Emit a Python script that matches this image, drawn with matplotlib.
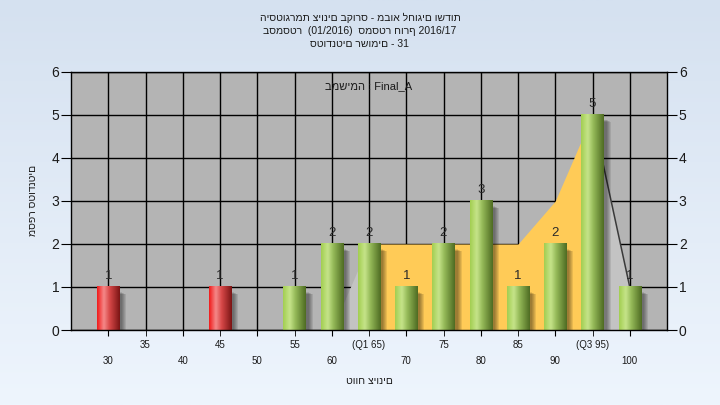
import numpy as np
import matplotlib
matplotlib.use("Agg")
import matplotlib.pyplot as plt
from matplotlib.colors import LinearSegmentedColormap
from matplotlib.patches import Rectangle

plt.rcParams['font.family'] = ['Liberation Sans', 'DejaVu Sans']

# ---------------- data ----------------
grades = [30, 45, 55, 60, 65, 70, 75, 80, 85, 90, 95, 100]
counts = [1, 1, 1, 2, 2, 1, 2, 3, 1, 2, 5, 1]
pass_grade = 55          # bars below this grade are red

area_x = [60, 65, 70, 75, 80, 85, 90, 95, 100]
area_y = [0, 2, 2, 2, 2, 2, 3, 5, 1]
q1, q3 = 65, 95

major_ticks = [30, 40, 50, 60, 70, 80, 90, 100]
major_labels = ['30', '40', '50', '60', '70', '80', '90', '100']
minor_ticks = [35, 45, 55, 65, 75, 85, 95]
minor_labels = ['35', '45', '55', '(Q1 65)', '75', '85', '(Q3 95)']
y_ticks = [0, 1, 2, 3, 4, 5, 6]

title_lines = ['היסטוגרמת ציונים בקורס - מבוא לחוגים ושדות',
               'בסמסטר  (01/2016)  סמסטר חורף 2016/17',
               'סטודנטים רשומים - 31']
task_label = 'במשימה : Final_A'
x_label = 'טווח ציונים'
y_label = 'מספר סטודנטים'

# ---------------- figure ----------------
W, H = 720, 405
fig = plt.figure(figsize=(7.2, 4.05), dpi=100)

bg = fig.add_axes([0, 0, 1, 1], zorder=-10)
bg_cmap = LinearSegmentedColormap.from_list('bg', ['#EEF5FD', '#D5E1F0'])
bg.imshow(np.linspace(0, 1, 256).reshape(-1, 1)[::-1], aspect='auto',
          cmap=bg_cmap, extent=[0, 1, 0, 1])
bg.axis('off')

left, right, top, bottom = 71, 667, 72, 330
ax = fig.add_axes([left / W, 1 - bottom / H, (right - left) / W, (bottom - top) / H])
ax.set_facecolor('#B4B4B4')
xmin, xmax = 25, 105
ax.set_xlim(xmin, xmax)
ax.set_ylim(0, 6)

# grid
ax.set_xticks(major_ticks)
ax.set_xticklabels(major_labels)
ax.set_xticks(minor_ticks, minor=True)
ax.set_xticklabels(minor_labels, minor=True)
ax.set_yticks(y_ticks)
ax.set_axisbelow(True)
ax.grid(True, which='both', axis='x', color='black', lw=1)
ax.grid(True, which='major', axis='y', color='black', lw=1)

for s in ax.spines.values():
    s.set_color('black')
    s.set_linewidth(1)
    s.set_zorder(6)

ax.tick_params(axis='x', which='both', length=4, color='black', labelsize=7,
               labelcolor='#1a1a1a')
ax.tick_params(axis='x', which='minor', pad=3.5)
ax.tick_params(axis='x', which='major', pad=15)
ax.tick_params(axis='y', left=True, right=True, labelleft=True, labelright=True,
               length=7, color='black', labelsize=10, labelcolor='#1a1a1a', pad=1.5)

# quartile area
ax_arr = np.array(area_x)
ay_arr = np.array(area_y)
inside = (ax_arr >= q1) & (ax_arr <= q3)
ax.fill_between(ax_arr[inside], 0, ay_arr[inside], color='#FFCB57', lw=0, zorder=1)
lo = ax_arr <= q1
hi = ax_arr >= q3
ax.fill_between(ax_arr[lo], 0, ay_arr[lo], color='#C3C3C3', lw=0, zorder=1)
ax.fill_between(ax_arr[hi], 0, ay_arr[hi], color='#C3C3C3', lw=0, zorder=1)
ax.plot(ax_arr[hi], ay_arr[hi], color='#3A3A3A', lw=1.1, zorder=1.5)

# bars
px = (xmax - xmin) / (right - left)       # data units per pixel (x)
py = 6 / (bottom - top)                   # data units per pixel (y)
bar_w = 3.0
green = LinearSegmentedColormap.from_list(
    'g', [(0, '#A2CE50'), (0.3, '#C6E48A'), (0.55, '#93B857'), (1, '#4E6B22')])
red = LinearSegmentedColormap.from_list(
    'r', [(0, '#F01818'), (0.3, '#F58A8A'), (0.55, '#D84848'), (1, '#7A1414')])
grad = np.linspace(0, 1, 200).reshape(1, -1)

for g, c in zip(grades, counts):
    cmap = red if g < pass_grade else green
    x0 = g - bar_w / 2
    # soft shadow
    for k in range(5):
        ax.add_patch(Rectangle((x0 + (3 + k) * px, -2 * py), bar_w,
                               c - (3 + k * 0.5) * py,
                               color='black', alpha=0.09, lw=0, zorder=2))
    ax.imshow(grad, extent=[x0, x0 + bar_w, 0, c], aspect='auto', cmap=cmap,
              interpolation='bicubic', zorder=3)
    ax.text(g, c + 8 * py, str(c), ha='center', va='baseline', fontsize=9.5,
            color='#2a2a2a', zorder=5)

ax.set_xlim(xmin, xmax)
ax.set_ylim(0, 6)

ax.text(0.5, 1 - (86 - top) / (bottom - top), task_label, transform=ax.transAxes,
        ha='center', va='center', fontsize=8, color='#1a1a1a', zorder=6)

# titles and axis labels
for i, line in enumerate(title_lines):
    fig.text(0.5, 1 - (18 + 13 * i) / H, line, ha='center', va='center',
             fontsize=7.5, color='#1a1a1a')
fig.text((left + right) / 2 / W, 1 - 381 / H, x_label, ha='center', va='center',
         fontsize=7.5, color='#1a1a1a')
fig.text(33 / W, 1 - 200 / H, y_label, rotation=90, ha='center', va='center',
         fontsize=7.5, color='#1a1a1a')

fig.savefig('out.png', dpi=100)
